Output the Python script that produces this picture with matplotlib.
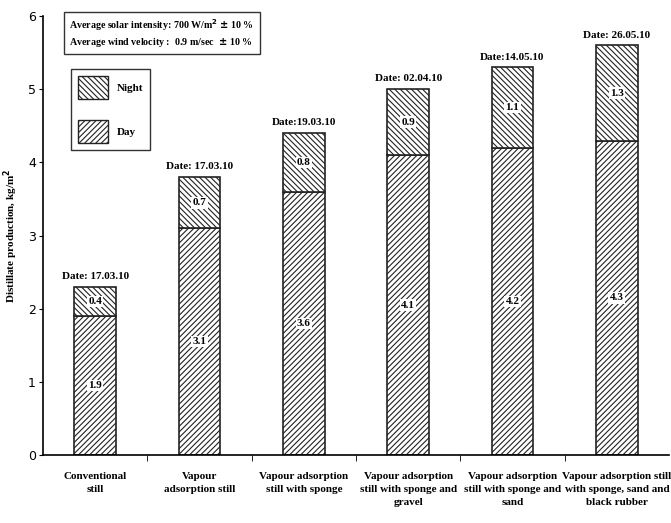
import numpy as np
import matplotlib.pyplot as plt
from matplotlib.patches import Patch

plt.rcParams['font.family'] = ['Liberation Serif', 'DejaVu Serif']
plt.rcParams['font.weight'] = 'bold'
plt.rcParams['hatch.linewidth'] = 0.8

# data
categories = ["Conventional\nstill", "Vapour\nadsorption still",
              "Vapour adsorption\nstill with sponge",
              "Vapour adsorption\nstill with sponge and\ngravel",
              "Vapour adsorption\nstill with sponge and\nsand",
              "Vapour adsorption still\nwith sponge, sand and\nblack rubber"]
day = [1.9, 3.1, 3.6, 4.1, 4.2, 4.3]
night = [0.4, 0.7, 0.8, 0.9, 1.1, 1.3]
dates = ["Date: 17.03.10", "Date: 17.03.10", "Date:19.03.10",
         "Date: 02.04.10", "Date:14.05.10", "Date: 26.05.10"]

fig = plt.figure(figsize=(6.71, 5.23), dpi=100)
ax = fig.add_axes([0.064, 0.13, 0.933, 0.839])

x = np.arange(len(categories))
w = 0.4
day_hatch = '//////'
night_hatch = '\\\\\\\\\\\\'
ax.bar(x, day, w, color='white', edgecolor='#222222', hatch=day_hatch, linewidth=1.2)
ax.bar(x, night, w, bottom=day, color='white', edgecolor='#222222', hatch=night_hatch, linewidth=1.2)

box = dict(facecolor='white', edgecolor='none', pad=1)
for i in range(len(x)):
    ax.text(x[i], day[i] / 2, str(day[i]), ha='center', va='center', fontsize=8, bbox=box)
    ax.text(x[i], day[i] + night[i] / 2, str(night[i]), ha='center', va='center', fontsize=8, bbox=box)
    ax.text(x[i], day[i] + night[i] + 0.08, dates[i], ha='center', va='bottom', fontsize=8)

ax.set_xlim(-0.5, 5.5)
ax.set_ylim(0, 6)
ax.set_yticks(range(7))
ax.set_yticklabels([str(v) for v in range(7)], fontweight='normal', fontsize=9,
                   family='DejaVu Sans')
ax.set_xticks(x)
ax.set_xticklabels(categories, fontsize=8, linespacing=1.6)
ax.set_xticks(np.arange(0.5, 5.5, 1), minor=True)
ax.tick_params(axis='x', which='major', length=0, pad=12)
ax.tick_params(axis='x', which='minor', length=4, direction='out')
ax.tick_params(axis='y', length=3, pad=2)
ax.spines['top'].set_visible(False)
ax.spines['right'].set_visible(False)
ax.spines['left'].set_linewidth(1.2)
ax.spines['bottom'].set_linewidth(1.2)
ax.set_ylabel("Distillate production, kg/m$^2$", fontsize=8, fontweight='bold', labelpad=6)

fig.text(0.103, 0.967, "Average solar intensity: 700 W/m$^2$ $\\pm$ 10 %\nAverage wind velocity :  0.9 m/sec  $\\pm$ 10 %",
         fontsize=7.2, va='top', ha='left', linespacing=1.3,
         bbox=dict(facecolor='white', edgecolor='#333333', pad=4))

handles = [Patch(facecolor='white', edgecolor='#222222', hatch=night_hatch, label='Night'),
           Patch(facecolor='white', edgecolor='#222222', hatch=day_hatch, label='Day')]
leg = fig.legend(handles=handles, loc='upper left', bbox_to_anchor=(0.098, 0.878), fontsize=8,
                 handlelength=2.7, handleheight=2.8, labelspacing=1.9, fancybox=False,
                 edgecolor='#333333', borderpad=0.6, handletextpad=0.8, framealpha=1)
leg.get_frame().set_linewidth(1.0)

fig.savefig("out.png", dpi=100)
